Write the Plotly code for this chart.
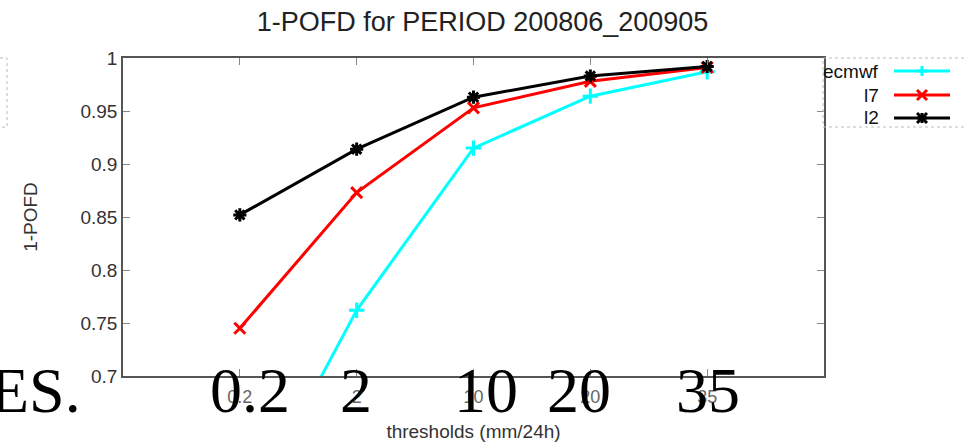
import plotly.graph_objects as go

thresholds = ["0.2", "2", "10", "20", "35"]
ecmwf = [0.556, 0.762, 0.915, 0.964, 0.987]
l7 = [0.745, 0.873, 0.953, 0.978, 0.991]
l2 = [0.852, 0.914, 0.963, 0.983, 0.992]

pos = list(range(len(thresholds)))

W, H = 965, 443
ML, MR, MT, MB = 123, 141, 58, 67
PW, PH = W - ML - MR, H - MT - MB


def px(x):
    return (x - ML) / PW


def py(y):
    return 1 - (y - MT) / PH


fig = go.Figure()
series = [
    ("ecmwf", ecmwf, "#00ffff", "cross-thin-open", "+"),
    ("l7", l7, "#ff0000", "x-thin-open", "x"),
    ("l2", l2, "#000000", "asterisk-open", "*"),
]
for name, vals, col, sym, _ in series:
    fig.add_trace(go.Scatter(
        x=pos, y=vals, name=name, mode="lines+markers", showlegend=False,
        line=dict(color=col, width=3),
        marker=dict(symbol=sym, size=11, line=dict(color=col, width=3)),
    ))

sans = "Liberation Sans"
fig.update_layout(
    width=W, height=H,
    margin=dict(l=ML, r=MR, t=MT, b=MB, autoexpand=False),
    paper_bgcolor="white", plot_bgcolor="white",
    title=dict(text="1-POFD for PERIOD 200806_200905", x=0.5, xanchor="center",
               y=1 - 22 / H, yanchor="middle",
               font=dict(family=sans, size=27, color="#222")),
    showlegend=False,
    font=dict(family=sans, size=19, color="#333"),
)
fig.update_xaxes(
    range=[-1, 5], tickmode="array", tickvals=pos, ticktext=thresholds,
    showgrid=False, zeroline=False, showline=True, linecolor="#555", linewidth=1.5,
    mirror="ticks", ticks="inside", ticklen=7, tickcolor="#888", automargin=False,
    tickfont=dict(family=sans, size=18, color="#666"), ticklabelstandoff=4,
    title=dict(text="thresholds (mm/24h)", font=dict(family=sans, size=19, color="#333"), standoff=18),
)
fig.update_yaxes(
    range=[0.7, 1.0], tickvals=[0.7, 0.75, 0.8, 0.85, 0.9, 0.95, 1.0],
    ticktext=["0.7", "0.75", "0.8", "0.85", "0.9", "0.95", "1"],
    showgrid=False, zeroline=False, showline=True, linecolor="#555", linewidth=1.5,
    mirror="ticks", ticks="inside", ticklen=7, tickcolor="#888", automargin=False,
    tickfont=dict(family=sans, size=19, color="#333"),
    title=dict(text="1-POFD", font=dict(family=sans, size=19, color="#333"), standoff=38),
)

# dotted boxes (legend frame and left frame)
fig.add_shape(type="rect", xref="paper", yref="paper", x0=px(823), x1=px(1000), y0=py(58), y1=py(127),
              line=dict(color="#bbb", width=1, dash="dot"))
fig.add_shape(type="rect", xref="paper", yref="paper", x0=px(-30), x1=px(7), y0=py(58), y1=py(127),
              line=dict(color="#bbb", width=1, dash="dot"))

# manual legend: text right-aligned, sample on the right
legend_y = [71, 95, 118]
for (name, vals, col, sym, glyph), ly in zip(series, legend_y):
    fig.add_annotation(x=px(881), xref="paper", y=py(ly), yref="paper", text=name,
                       showarrow=False, xanchor="right", yanchor="middle",
                       font=dict(family=sans, size=19, color="#111"))
    fig.add_shape(type="line", xref="paper", yref="paper", x0=px(894), x1=px(950),
                  y0=py(ly), y1=py(ly), line=dict(color=col, width=3))
    cx, cy, r = 922, ly, 5
    segs = []
    if glyph in "+*":
        segs += [((cx - r, cy), (cx + r, cy)), ((cx, cy - r), (cx, cy + r))]
    if glyph in "x*":
        segs += [((cx - r, cy - r), (cx + r, cy + r)), ((cx - r, cy + r), (cx + r, cy - r))]
    for (x0, y0), (x1, y1) in segs:
        fig.add_shape(type="line", xref="paper", yref="paper", x0=px(x0), x1=px(x1),
                      y0=py(y0), y1=py(y1), line=dict(color=col, width=3))

# large serif overlay text
overlay_x = [0.09, 0.99, 2.11, 2.90, 4.01]
serif = "Liberation Serif"
for xv, t in zip(overlay_x, thresholds):
    fig.add_annotation(x=xv, xref="x", y=py(390), yref="paper", text=t, showarrow=False,
                       xanchor="center", yanchor="middle",
                       font=dict(family=serif, size=64, color="black"))
fig.add_annotation(x=px(83), xref="paper", y=py(390), yref="paper", text="ES.", showarrow=False,
                   xanchor="right", yanchor="middle",
                   font=dict(family=serif, size=64, color="black"))

fig.write_html("out.html")
